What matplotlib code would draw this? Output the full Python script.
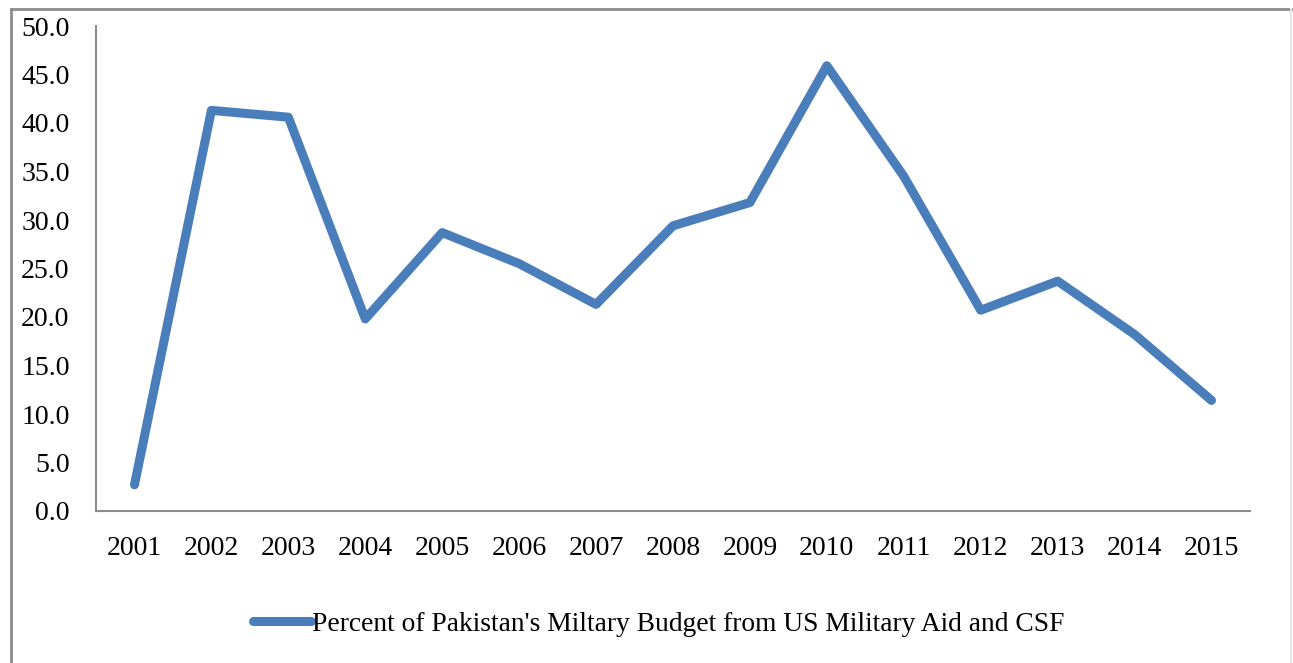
import matplotlib
matplotlib.use("Agg")
import matplotlib.pyplot as plt
from matplotlib.lines import Line2D

years = ['2001', '2002', '2003', '2004', '2005', '2006', '2007', '2008',
         '2009', '2010', '2011', '2012', '2013', '2014', '2015']
percent = [2.7, 41.3, 40.6, 19.8, 28.7, 25.5, 21.3, 29.4,
           31.8, 45.9, 34.5, 20.7, 23.7, 18.2, 11.4]
yticks = [0, 5, 10, 15, 20, 25, 30, 35, 40, 45, 50]
series_name = "Percent of Pakistan's Miltary Budget from US Military Aid and CSF"

plt.rcParams['font.family'] = ['Liberation Serif', 'DejaVu Serif']

W, H = 1293, 663
fig = plt.figure(figsize=(W / 100, H / 100), dpi=100)
ax = fig.add_axes([96 / W, 1 - 511 / H, (1250 - 96) / W, (511 - 26) / H])

x = list(range(len(years)))
line, = ax.plot(x, percent, color='#4A7EBB', linewidth=6.5,
                solid_capstyle='round', solid_joinstyle='round',
                label=series_name)

ax.set_xlim(-0.5, len(years) - 0.5)
ax.set_ylim(0, 50)
ax.set_yticks(yticks)
ax.set_yticklabels(['%.1f' % v for v in yticks], fontsize=20)
ax.set_xticks(x)
ax.set_xticklabels(years, fontsize=20)
ax.tick_params(axis='y', length=0, pad=19)
ax.tick_params(axis='x', length=0, pad=18)
for s in ['top', 'right']:
    ax.spines[s].set_visible(False)
for s in ['left', 'bottom']:
    ax.spines[s].set_color('#8c8c8c')
    ax.spines[s].set_linewidth(1.5)

leg = fig.legend(handles=[line], loc='center', bbox_to_anchor=(659 / W, 1 - 624 / H),
                 frameon=False, fontsize=19.8, handlelength=2.1, handletextpad=0.05)

# outer chart border (left/top dark, right faint)
fig.add_artist(Line2D([11 / W, 11 / W], [0, 1 - 9 / H], transform=fig.transFigure,
                      color='#8c8c8c', linewidth=2))
fig.add_artist(Line2D([11 / W, 1291 / W], [1 - 9 / H, 1 - 9 / H], transform=fig.transFigure,
                      color='#8c8c8c', linewidth=2))
fig.add_artist(Line2D([1291 / W, 1291 / W], [0, 1 - 9 / H], transform=fig.transFigure,
                      color='#e6e6e6', linewidth=1.5))

fig.savefig('out.png', dpi=100)
